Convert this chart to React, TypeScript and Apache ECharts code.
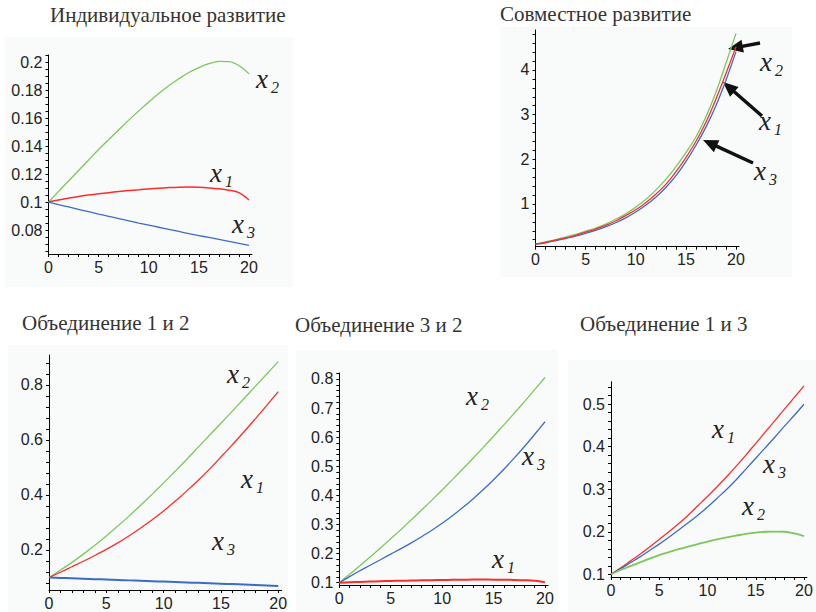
import { useEffect, useRef } from "react";
import * as echarts from "echarts";

// ---- data ----
const T = [0, 1, 2, 3, 4, 5, 6, 7, 8, 9, 10, 11, 12, 13, 14, 15, 16, 17, 18, 19, 20];

// Индивидуальное развитие
const indX1 = [0.1, 0.1015, 0.1028, 0.104, 0.105, 0.1059, 0.1067, 0.1075, 0.1082, 0.1088, 0.1094, 0.1099, 0.1103, 0.1106, 0.1107, 0.1105, 0.1101, 0.1095, 0.1085, 0.1067, 0.1015];
const indX2 = [0.1, 0.1075, 0.115, 0.1225, 0.13, 0.1375, 0.1445, 0.1515, 0.1585, 0.165, 0.1715, 0.1775, 0.183, 0.188, 0.1925, 0.196, 0.1988, 0.2005, 0.2003, 0.1975, 0.1915];
const indX3 = [0.1, 0.0982, 0.0965, 0.0948, 0.0931, 0.0914, 0.0898, 0.0882, 0.0866, 0.085, 0.0835, 0.082, 0.0805, 0.079, 0.0775, 0.0761, 0.0747, 0.0733, 0.0719, 0.0705, 0.069];

// Совместное развитие
const jointX1 = [0.1, 0.14, 0.19, 0.24, 0.3, 0.37, 0.44, 0.52, 0.62, 0.74, 0.87, 1.03, 1.22, 1.44, 1.72, 2.04, 2.4, 2.83, 3.35, 3.92, 4.52];
const jointX2 = [0.1, 0.15, 0.2, 0.26, 0.32, 0.39, 0.46, 0.55, 0.66, 0.78, 0.93, 1.1, 1.31, 1.55, 1.83, 2.15, 2.5, 2.95, 3.5, 4.15, 4.82];
const jointX3 = [0.1, 0.13, 0.18, 0.23, 0.28, 0.34, 0.41, 0.49, 0.58, 0.69, 0.82, 0.97, 1.15, 1.37, 1.63, 1.95, 2.31, 2.72, 3.2, 3.77, 4.41];

// Объединение 1 и 2
const u12X1 = [0.1, 0.119, 0.139, 0.159, 0.18, 0.202, 0.226, 0.252, 0.28, 0.31, 0.342, 0.377, 0.414, 0.453, 0.494, 0.538, 0.583, 0.629, 0.677, 0.726, 0.776];
const u12X2 = [0.1, 0.127, 0.155, 0.185, 0.217, 0.251, 0.287, 0.324, 0.363, 0.403, 0.444, 0.486, 0.529, 0.573, 0.617, 0.661, 0.705, 0.75, 0.795, 0.84, 0.885];
const u12X3 = [0.1, 0.0985, 0.097, 0.0955, 0.094, 0.0925, 0.091, 0.0895, 0.088, 0.0865, 0.085, 0.0835, 0.082, 0.0805, 0.079, 0.0775, 0.076, 0.0745, 0.073, 0.0712, 0.069];

// Объединение 3 и 2
const u32X1 = [0.1, 0.1015, 0.1028, 0.104, 0.105, 0.1059, 0.1067, 0.1075, 0.1082, 0.1088, 0.1094, 0.1099, 0.1103, 0.1106, 0.1107, 0.1105, 0.1101, 0.1095, 0.1085, 0.1067, 0.1015];
const u32X2 = [0.1, 0.1288, 0.1583, 0.1885, 0.2194, 0.2509, 0.2831, 0.316, 0.3496, 0.3838, 0.4187, 0.4543, 0.4906, 0.5275, 0.5651, 0.6034, 0.6424, 0.682, 0.7223, 0.7633, 0.805];
const u32X3 = [0.1, 0.121, 0.141, 0.16, 0.179, 0.198, 0.217, 0.237, 0.258, 0.28, 0.304, 0.33, 0.358, 0.388, 0.42, 0.454, 0.49, 0.528, 0.568, 0.61, 0.653];

// Объединение 1 и 3
const u13X1 = [0.1, 0.115, 0.131, 0.147, 0.164, 0.182, 0.2, 0.219, 0.239, 0.261, 0.283, 0.306, 0.33, 0.355, 0.381, 0.408, 0.435, 0.462, 0.489, 0.516, 0.543];
const u13X2 = [0.1, 0.11, 0.119, 0.128, 0.137, 0.145, 0.152, 0.159, 0.165, 0.171, 0.177, 0.182, 0.187, 0.191, 0.195, 0.198, 0.2, 0.2005, 0.2, 0.196, 0.19];
const u13X3 = [0.1, 0.113, 0.127, 0.141, 0.156, 0.171, 0.187, 0.204, 0.221, 0.239, 0.258, 0.279, 0.3, 0.323, 0.348, 0.373, 0.398, 0.423, 0.449, 0.474, 0.5];

const titles = ["Индивидуальное развитие", "Совместное развитие", "Объединение 1 и 2", "Объединение 3 и 2", "Объединение 1 и 3"];
const xTickLabels = [0, 5, 10, 15, 20];
const yTickLabels = [
  [0.08, 0.1, 0.12, 0.14, 0.16, 0.18, 0.2],
  [1, 2, 3, 4],
  [0.2, 0.4, 0.6, 0.8],
  [0.1, 0.2, 0.3, 0.4, 0.5, 0.6, 0.7, 0.8],
  [0.1, 0.2, 0.3, 0.4, 0.5],
];

// ---- layout ----
const RED = "#ff2b2b";
const GREEN = "#7cc85c";
const BLUE = "#3d6cc6";

const panels = [
  { left: 48.5, top: 55, width: 203.5, height: 199, yMin: 0.0629, yMax: 0.205, minorFrom: 0.065, minorStep: 0.005, xMax: 20.3,
    series: [{ d: indX2, c: GREEN, w: 1.3 }, { d: indX1, c: RED, w: 1.5 }, { d: indX3, c: BLUE, w: 1.3 }] },
  { left: 535.5, top: 30, width: 203.5, height: 216.7, yMin: 0.044, yMax: 4.895, minorFrom: 0.2, minorStep: 0.2, xMax: 20.3,
    series: [{ d: jointX2, c: GREEN, w: 1.3 }, { d: jointX3, c: BLUE, w: 1.3 }, { d: jointX1, c: RED, w: 1.3 }] },
  { left: 49, top: 355, width: 232.7, height: 235, yMin: 0.0545, yMax: 0.909, minorFrom: 0.08, minorStep: 0.04, xMax: 20.3,
    series: [{ d: u12X2, c: GREEN, w: 1.3 }, { d: u12X1, c: RED, w: 1.3 }, { d: u12X3, c: BLUE, w: 2 }] },
  { left: 339.3, top: 373, width: 208.8, height: 212, yMin: 0.0921, yMax: 0.8206, minorFrom: 0.1, minorStep: 0.02, xMax: 20.3,
    series: [{ d: u32X2, c: GREEN, w: 1.3 }, { d: u32X3, c: BLUE, w: 1.3 }, { d: u32X1, c: RED, w: 2 }] },
  { left: 611, top: 381.7, width: 195.9, height: 195.3, yMin: 0.0936, yMax: 0.553, minorFrom: 0.1, minorStep: 0.02, xMax: 20.3,
    series: [{ d: u13X1, c: RED, w: 1.3 }, { d: u13X3, c: BLUE, w: 1.3 }, { d: u13X2, c: GREEN, w: 1.8 }] },
];

const backgrounds = [
  { x: 5, y: 37, w: 288, h: 250 },
  { x: 500, y: 27, w: 292, h: 250 },
  { x: 8, y: 345, w: 280, h: 267 },
  { x: 296, y: 350, w: 262, h: 262 },
  { x: 568, y: 360, w: 248, h: 252 },
];

const titlePos = [
  { x: 50, b: 22 },
  { x: 500, b: 21 },
  { x: 22, b: 330 },
  { x: 295, b: 332 },
  { x: 580, b: 331 },
];

const curveLabels = [
  { sub: "2", x: 257, b: 88 },
  { sub: "1", x: 211, b: 182 },
  { sub: "3", x: 233, b: 233 },
  { sub: "2", x: 761, b: 71 },
  { sub: "1", x: 760, b: 130 },
  { sub: "3", x: 755, b: 180 },
  { sub: "2", x: 228, b: 383 },
  { sub: "1", x: 242, b: 488 },
  { sub: "3", x: 213, b: 550 },
  { sub: "2", x: 467, b: 405 },
  { sub: "3", x: 523, b: 465 },
  { sub: "1", x: 493, b: 568 },
  { sub: "1", x: 713, b: 438 },
  { sub: "3", x: 764, b: 473 },
  { sub: "2", x: 743, b: 515 },
];

const arrows = [
  { sx: 760, sy: 43, tx: 728, ty: 49 },
  { sx: 762, sy: 116, tx: 723, ty: 82 },
  { sx: 753, sy: 163, tx: 703, ty: 140 },
];

function steps(from: number, to: number, step: number) {
  const out: number[] = [];
  const n = Math.floor((to - from) / step + 1e-6);
  for (let i = 0; i <= n; i++) out.push(+(from + i * step).toFixed(6));
  return out;
}

const AXIS_FONT = { fontSize: 16, fontFamily: "Liberation Sans, Arial, sans-serif", color: "#222" };
const SERIF = '"Liberation Serif", "Times New Roman", serif';

export default function App() {
  const ref = useRef<HTMLDivElement>(null);
  useEffect(() => {
    document.body.style.margin = "0";
    document.body.style.overflow = "hidden";
    if (!ref.current) return;
    const chart = echarts.init(ref.current, undefined, { renderer: "svg" });

    const grids = panels.map((p) => ({
      left: p.left, top: p.top, width: p.width, height: p.height,
      containLabel: false, outerBoundsMode: "none",
    }));
    const xAxes = panels.map((p, i) => ({
      type: "value", gridIndex: i, min: 0, max: p.xMax,
      axisLine: { show: true, onZero: false, lineStyle: { color: "#000", width: 1 } },
      axisTick: { show: true, customValues: steps(0, 20, 1), length: 3, lineStyle: { color: "#000", width: 1 } },
      axisLabel: { ...AXIS_FONT, customValues: xTickLabels, margin: 5, formatter: (v: number) => String(v) },
      splitLine: { show: false },
    }));
    const yAxes = panels.map((p, i) => ({
      type: "value", gridIndex: i, min: p.yMin, max: p.yMax,
      axisLine: { show: true, onZero: false, lineStyle: { color: "#000", width: 1 } },
      axisTick: { show: true, customValues: steps(p.minorFrom, p.yMax, p.minorStep), length: 3, lineStyle: { color: "#000", width: 1 } },
      axisLabel: { ...AXIS_FONT, customValues: yTickLabels[i], margin: 6, formatter: (v: number) => String(+(+v).toFixed(3)) },
      splitLine: { show: false },
    }));
    const series: any[] = [];
    panels.forEach((p, i) => {
      p.series.forEach((s) => {
        series.push({
          type: "line", xAxisIndex: i, yAxisIndex: i,
          data: T.map((t, k) => [t, s.d[k]]),
          showSymbol: false, smooth: 0.35,
          lineStyle: { color: s.c, width: s.w },
          itemStyle: { color: s.c },
        });
      });
    });

    const graphic: any[] = [];
    backgrounds.forEach((b) => {
      graphic.push({ type: "rect", z: -10, shape: { x: b.x, y: b.y, width: b.w, height: b.h }, style: { fill: "#f9fbfb" } });
    });
    titles.forEach((t, i) => {
      graphic.push({
        type: "text", x: titlePos[i].x, y: titlePos[i].b - 7,
        style: { text: t, font: `21px ${SERIF}`, fill: "#333", verticalAlign: "middle", align: "left" },
      });
    });
    curveLabels.forEach((l) => {
      graphic.push({
        type: "text", x: l.x - 1, y: l.b - 9,
        style: { text: "x", font: `italic 27px ${SERIF}`, fill: "#222", verticalAlign: "middle", align: "left" },
      });
      graphic.push({
        type: "text", x: l.x + 14, y: l.b - 1,
        style: { text: l.sub, font: `italic 16px ${SERIF}`, fill: "#222", verticalAlign: "middle", align: "left" },
      });
    });
    arrows.forEach((a) => {
      const dx = a.tx - a.sx, dy = a.ty - a.sy;
      const len = Math.hypot(dx, dy);
      const ux = dx / len, uy = dy / len;
      const L = 15, W = 6.5;
      const bx = a.tx - ux * L, by = a.ty - uy * L;
      graphic.push({ type: "line", shape: { x1: a.sx, y1: a.sy, x2: bx + ux * 2, y2: by + uy * 2 }, style: { stroke: "#111", lineWidth: 3.5 } });
      graphic.push({
        type: "polygon",
        shape: { points: [[a.tx, a.ty], [bx - uy * W, by + ux * W], [bx + uy * W, by - ux * W]] },
        style: { fill: "#111" },
      });
    });

    chart.setOption({
      animation: false,
      backgroundColor: "#fff",
      grid: grids,
      xAxis: xAxes,
      yAxis: yAxes,
      series,
      graphic,
    });
    return () => chart.dispose();
  }, []);
  return <div ref={ref} style={{ width: 816, height: 612 }} />;
}
